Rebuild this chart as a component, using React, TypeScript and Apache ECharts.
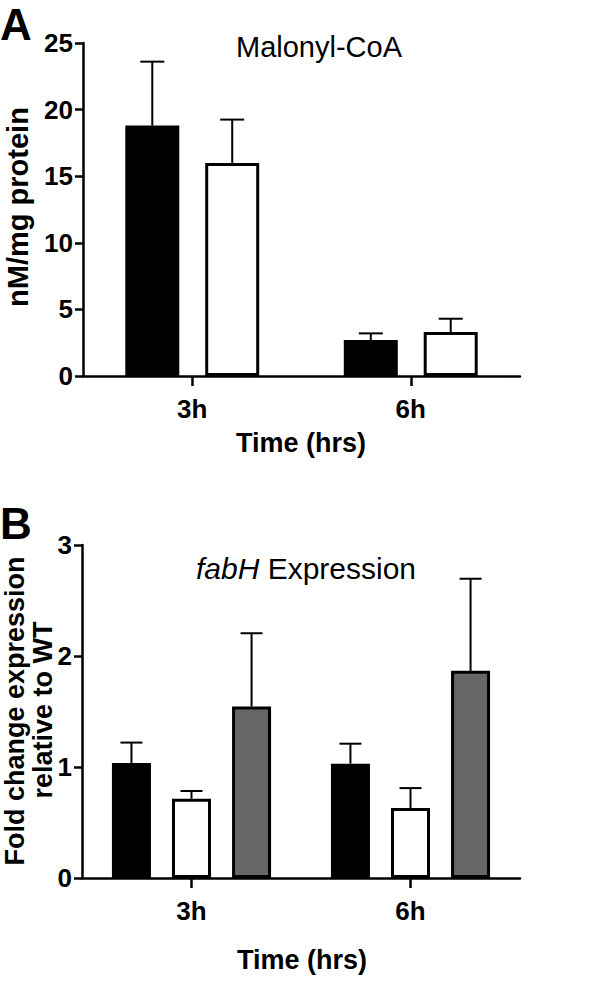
import React, { useEffect, useRef } from "react";
import * as echarts from "echarts";

// ---- Data ----
const categories = ["3h", "6h"];

// Panel A: Malonyl-CoA (nM/mg protein)
const malonylBlack = [18.8, 2.7];
const malonylBlackErr = [4.8, 0.5];
const malonylWhite = [16.0, 3.3];
const malonylWhiteErr = [3.25, 1.0];

// Panel B: fabH expression (fold change relative to WT)
const fabhBlack = [1.035, 1.03];
const fabhBlackErr = [0.185, 0.18];
const fabhWhite = [0.714, 0.63];
const fabhWhiteErr = [0.07, 0.18];
const fabhGray = [1.545, 1.866];
const fabhGrayErr = [0.66, 0.83];

const FONT = '"Liberation Sans", Arial, Helvetica, sans-serif';

function errorSeries(
  values: number[],
  errs: number[],
  axisIndex: number,
  offset: number,
  capW: number
) {
  return {
    type: "custom",
    xAxisIndex: axisIndex,
    yAxisIndex: axisIndex,
    z: 1,
    silent: true,
    encode: { x: 0, y: [1, 2] },
    data: values.map((v, i) => [i, v, v + errs[i]]),
    renderItem: (params: any, api: any) => {
      const base = api.coord([api.value(0), api.value(1)]);
      const top = api.coord([api.value(0), api.value(2)]);
      const x = base[0] + offset;
      return {
        type: "group",
        children: [
          {
            type: "line",
            shape: { x1: x, y1: base[1], x2: x, y2: top[1] },
            style: { stroke: "#000", lineWidth: 2 },
          },
          {
            type: "line",
            shape: { x1: x - capW / 2, y1: top[1], x2: x + capW / 2, y2: top[1] },
            style: { stroke: "#000", lineWidth: 2 },
          },
        ],
      };
    },
  };
}

function barSeries(
  values: number[],
  axisIndex: number,
  fill: string,
  width: number,
  gap: string
) {
  return {
    type: "bar",
    xAxisIndex: axisIndex,
    yAxisIndex: axisIndex,
    z: 2,
    barWidth: width,
    barGap: gap,
    data: values,
    itemStyle: { color: fill, borderColor: "#000", borderWidth: 3 },
  };
}

const axisCommonX = (gridIndex: number) => ({
  type: "category",
  gridIndex,
  data: categories,
  boundaryGap: true,
  axisLine: { show: true, lineStyle: { color: "#000", width: 2.5 } },
  axisTick: { show: true, alignWithLabel: true, length: 10, lineStyle: { color: "#000", width: 2.5 } },
  axisLabel: { color: "#000", fontFamily: FONT, fontWeight: "bold", fontSize: 26, margin: 20 },
  splitLine: { show: false },
});

const axisCommonY = (gridIndex: number, max: number, interval: number) => ({
  type: "value",
  gridIndex,
  min: 0,
  max,
  interval,
  axisLine: { show: true, lineStyle: { color: "#000", width: 2.5 } },
  axisTick: { show: true, length: 8, lineStyle: { color: "#000", width: 2.5 } },
  axisLabel: { color: "#000", fontFamily: FONT, fontWeight: "bold", fontSize: 26, margin: 10 },
  splitLine: { show: false },
});

export default function App() {
  const ref = useRef<HTMLDivElement>(null);

  useEffect(() => {
    if (!ref.current) return;
    const chart = echarts.init(ref.current, undefined, { renderer: "svg" });

    const A_W = 54;
    const A_GAP = 0.48;
    const A_STEP = A_W * (1 + A_GAP);
    const B_W = 39;
    const B_GAP = 0.54;
    const B_STEP = B_W * (1 + B_GAP);

    chart.setOption({
      animation: false,
      backgroundColor: "#ffffff",
      grid: [
        { left: 83, top: 43, width: 437, height: 333 },
        { left: 82, top: 545, width: 438, height: 333 },
      ],
      xAxis: [axisCommonX(0), axisCommonX(1)],
      yAxis: [axisCommonY(0, 25, 5), axisCommonY(1, 3, 1)],
      series: [
        barSeries(malonylBlack, 0, "#000000", A_W, A_GAP * 100 + "%"),
        barSeries(malonylWhite, 0, "#ffffff", A_W, A_GAP * 100 + "%"),
        errorSeries(malonylBlack, malonylBlackErr, 0, -A_STEP / 2, 24),
        errorSeries(malonylWhite, malonylWhiteErr, 0, A_STEP / 2, 24),
        barSeries(fabhBlack, 1, "#000000", B_W, B_GAP * 100 + "%"),
        barSeries(fabhWhite, 1, "#ffffff", B_W, B_GAP * 100 + "%"),
        barSeries(fabhGray, 1, "#666666", B_W, B_GAP * 100 + "%"),
        errorSeries(fabhBlack, fabhBlackErr, 1, -B_STEP, 22),
        errorSeries(fabhWhite, fabhWhiteErr, 1, 0, 22),
        errorSeries(fabhGray, fabhGrayErr, 1, B_STEP, 22),
      ],
      graphic: [
        {
          type: "text",
          left: 0,
          top: 2,
          style: { text: "A", font: `bold 44px ${FONT}`, fill: "#000" },
        },
        {
          type: "text",
          left: 0,
          top: 501,
          style: { text: "B", font: `bold 44px ${FONT}`, fill: "#000" },
        },
        {
          type: "text",
          x: 319,
          y: 47,
          style: {
            text: "Malonyl-CoA",
            font: `29px ${FONT}`,
            fill: "#000",
            align: "center",
            verticalAlign: "middle",
          },
        },
        {
          type: "text",
          x: 306,
          y: 568,
          style: {
            text: "{i|fabH} Expression",
            font: `30px ${FONT}`,
            fill: "#000",
            align: "center",
            verticalAlign: "middle",
            rich: {
              i: { fontStyle: "italic", fontSize: 30, fontFamily: FONT, fill: "#000" },
            },
          },
        },
        {
          type: "text",
          x: 18,
          y: 207,
          rotation: Math.PI / 2,
          style: {
            text: "nM/mg protein",
            font: `bold 29px ${FONT}`,
            lineHeight: 29,
            fill: "#000",
            align: "center",
            verticalAlign: "middle",
          },
        },
        {
          type: "text",
          x: 15,
          y: 711,
          rotation: Math.PI / 2,
          style: {
            text: "Fold change expression",
            font: `bold 27px ${FONT}`,
            lineHeight: 26,
            fill: "#000",
            align: "center",
            verticalAlign: "middle",
          },
        },
        {
          type: "text",
          x: 43,
          y: 710,
          rotation: Math.PI / 2,
          style: {
            text: "relative to WT",
            font: `bold 27px ${FONT}`,
            lineHeight: 26,
            fill: "#000",
            align: "center",
            verticalAlign: "middle",
          },
        },
        {
          type: "text",
          x: 301,
          y: 443,
          style: {
            text: "Time (hrs)",
            font: `bold 27px ${FONT}`,
            fill: "#000",
            align: "center",
            verticalAlign: "middle",
          },
        },
        {
          type: "text",
          x: 302,
          y: 960,
          style: {
            text: "Time (hrs)",
            font: `bold 27px ${FONT}`,
            fill: "#000",
            align: "center",
            verticalAlign: "middle",
          },
        },
      ],
    });

    return () => {
      chart.dispose();
    };
  }, []);

  return (
    <div
      ref={ref}
      style={{ position: "absolute", left: 0, top: 0, width: 600, height: 982 }}
    />
  );
}
